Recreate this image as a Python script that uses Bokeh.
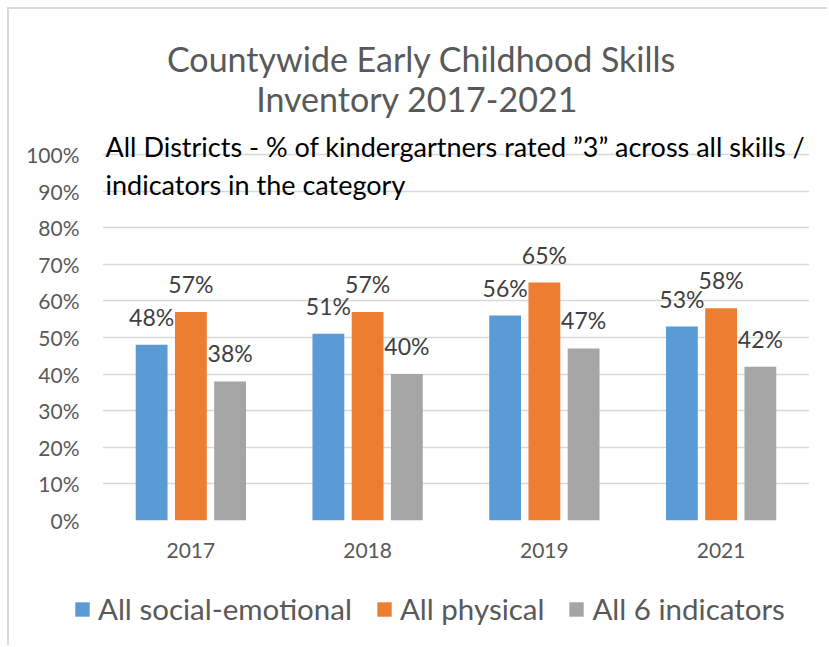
from bokeh.plotting import figure
from bokeh.layouts import column
from bokeh.models import (Range1d, FactorRange, FixedTicker, NumeralTickFormatter,
                          Label, Legend, LegendItem, ColumnDataSource)
from bokeh.transform import dodge
from bokeh.core.properties import value
from bokeh.embed import file_html
from bokeh.resources import INLINE

years = ["2017", "2018", "2019", "2021"]
social_emotional = [0.48, 0.51, 0.56, 0.53]
physical = [0.57, 0.57, 0.65, 0.58]
all_indicators = [0.38, 0.40, 0.47, 0.42]
series_names = ["All social-emotional", "All physical", "All 6 indicators"]
colors = ["#5B9BD5", "#ED7D31", "#A5A5A5"]
y_ticks = [i / 10 for i in range(11)]

title_lines = ["Countywide Early Childhood Skills", "Inventory  2017-2021"]
subtitle_lines = ["All Districts - % of kindergartners rated \u201d3\u201d across all skills /",
                  "indicators in the category"]

FONT = "Lato"
W = 818

p = figure(width=W, height=570, x_range=FactorRange(*years, range_padding=0),
           y_range=Range1d(0, 1.3415), output_backend="svg", toolbar_location=None,
           title=None,
           min_border_left=93, min_border_right=18, min_border_top=20,
           min_border_bottom=59)
p.outline_line_color = None
p.frame_align = False

src = ColumnDataSource(dict(year=years, se=social_emotional, ph=physical, ai=all_indicators,
                            se_t=[f"{round(v*100)}%" for v in social_emotional],
                            ph_t=[f"{round(v*100)}%" for v in physical],
                            ai_t=[f"{round(v*100)}%" for v in all_indicators]))

offs = [-0.222, 0.0, 0.222]
cols = ["se", "ph", "ai"]
for off, c, col in zip(offs, cols, colors):
    p.vbar(x=dodge("year", off, range=p.x_range), top=c, width=0.18, source=src,
           fill_color=col, line_color=None)
    p.text(x=dodge("year", off, range=p.x_range), y=c, text=c + "_t", source=src,
           text_align="center", text_baseline="alphabetic", y_offset=-28,
           text_font=value(FONT), text_font_size="23px", text_color="#404040")

p.xgrid.grid_line_color = None
p.ygrid.grid_line_color = "#d9d9d9"
p.ygrid.grid_line_width = 1.5
p.yaxis.ticker = FixedTicker(ticks=y_ticks)
p.yaxis.formatter = NumeralTickFormatter(format="0%")
for ax in (p.xaxis[0], p.yaxis[0]):
    ax.axis_line_color = None
    ax.major_tick_line_color = None
    ax.minor_tick_line_color = None
    ax.major_label_text_font = FONT
    ax.major_label_text_color = "#595959"
p.yaxis.major_label_text_font_size = "21px"
p.xaxis.major_label_text_font_size = "21px"
p.yaxis.major_label_standoff = 17
p.xaxis.major_label_standoff = 16

for txt, yy in zip(title_lines, [1.2623, 1.1528]):
    p.add_layout(Label(x=1.805, y=yy, text=txt, text_align="center",
                       text_baseline="alphabetic", text_font=FONT,
                       text_font_size="34px", text_color="#595959"))
for txt, yy in zip(subtitle_lines, [1.0215, 0.918]):
    p.add_layout(Label(x=0.017, y=yy, text=txt, text_align="left",
                       text_baseline="alphabetic", text_font=FONT,
                       text_font_size="27px", text_color="black"))

# legend strip below the chart
lg = figure(width=W, height=66, x_range=Range1d(0, W), y_range=Range1d(0, 66),
            output_backend="svg", toolbar_location=None, title=None,
            x_axis_type=None, y_axis_type=None, min_border=0)
lg.outline_line_color = None
lg.grid.grid_line_color = None
lg.frame_align = False
dummies = [lg.vbar(x=[-500], top=[0], width=1, fill_color=c, line_color=None) for c in colors]
legend = Legend(items=[LegendItem(label=n, renderers=[r]) for n, r in zip(series_names, dummies)],
                orientation="horizontal", location=(64, 19))
legend.label_text_font = FONT
legend.label_text_font_size = "29.5px"
legend.label_text_color = "#595959"
legend.glyph_width = 18
legend.glyph_height = 18
legend.label_standoff = 7
legend.spacing = 23
legend.padding = 0
legend.margin = 0
legend.border_line_color = None
legend.background_fill_alpha = 0
lg.add_layout(legend)

layout = column(p, lg, spacing=0)
layout.styles = {"margin-left": "7px", "margin-top": "7px",
                 "border-top": "2px solid #d9d9d9", "border-left": "2px solid #d9d9d9"}

open("out.html", "w").write(file_html(layout, INLINE))
